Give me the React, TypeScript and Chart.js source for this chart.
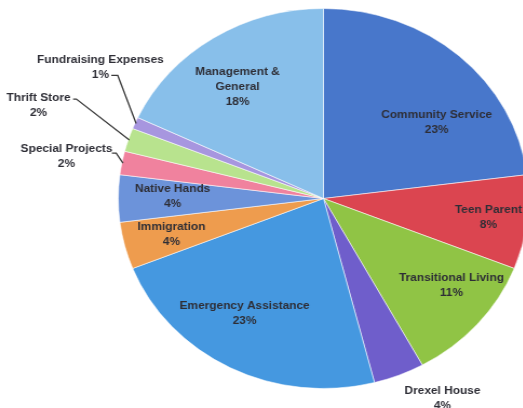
import React, { useEffect, useRef } from "react";
import { Chart, registerables } from "chart.js";

Chart.register(...registerables);

// ---- data ----
const categories = [
  "Community Service",
  "Teen Parent",
  "Transitional Living",
  "Drexel House",
  "Emergency Assistance",
  "Immigration",
  "Native Hands",
  "Special Projects",
  "Thrift Store",
  "Fundraising Expenses",
  "Management & General",
];
const shares = [23, 8, 11, 4, 23, 4, 4, 2, 2, 1, 18];
const sliceColors = [
  "#4877cb",
  "#db4550",
  "#90c445",
  "#6f5ecb",
  "#4598e0",
  "#ee9c4e",
  "#6c93da",
  "#f0829e",
  "#b8e38e",
  "#a796df",
  "#88bfea",
];

// label placement: [angle from 12 o'clock in degrees, radius factor]
const labelPlacement: [number, number][] = [
  [54.2, 0.68],
  [96.9, 0.81],
  [126.3, 0.774],
  [151.1, 1.2],
  [212.4, 0.717],
  [255.5, 0.765],
  [271, 0.735],
  [280.1, 1.272],
  [289.5, 1.473],
  [302.4, 1.287],
  [324.6, 0.723],
];
// leader lines for outside labels: [dx, dy, horizontal knee length] from label centre
const leaders: (null | [number, number, number])[] = [
  null, null, null, null, null, null, null,
  [42, -3, 4],
  [32, -6, 3],
  [10, 8, 6],
  null,
];

const SCALE_X = 1.08;

const labelPlugin = {
  id: "sliceLabels",
  afterDraw(chart: any) {
    const ctx = chart.ctx;
    const meta = chart.getDatasetMeta(0);
    const first = meta.data[0] as any;
    const cx = first.x;
    const cy = first.y;
    const R = first.outerRadius;
    ctx.save();
    ctx.font = "bold 11px 'Liberation Sans', Arial, sans-serif";
    ctx.fillStyle = "#2e2e36";
    ctx.textAlign = "center";
    ctx.textBaseline = "middle";
    meta.data.forEach((arc: any, i: number) => {
      const [deg, f] = labelPlacement[i];
      const a = ((deg - 90) * Math.PI) / 180;
      const x = cx + Math.cos(a) * R * f;
      const y = cy + Math.sin(a) * R * f;
      const lines = categories[i].replace("& ", "&\n").split("\n");
      lines.push(shares[i] + "%");
      const lh = 15;
      const y0 = y - ((lines.length - 1) * lh) / 2;
      lines.forEach((t: string, k: number) => ctx.fillText(t, x, y0 + k * lh));
      const ld = leaders[i];
      if (ld) {
        const mid = (arc.startAngle + arc.endAngle) / 2;
        const ex = cx + Math.cos(mid) * (R - 1);
        const ey = cy + Math.sin(mid) * (R - 1);
        const sx = x + ld[0];
        const sy = y + ld[1];
        ctx.beginPath();
        ctx.strokeStyle = "#3a3a3a";
        ctx.lineWidth = 1.3;
        ctx.moveTo(sx, sy);
        ctx.lineTo(sx + ld[2], sy);
        ctx.lineTo(ex, ey);
        ctx.stroke();
      }
    });
    ctx.restore();
  },
};

export default function App() {
  const canvasRef = useRef<HTMLCanvasElement | null>(null);

  useEffect(() => {
    if (!canvasRef.current) return;
    const chart = new Chart(canvasRef.current, {
      type: "pie",
      data: {
        labels: categories,
        datasets: [
          {
            data: shares,
            backgroundColor: sliceColors,
            borderColor: "rgba(255,255,255,0.55)",
            borderWidth: 1,
            hoverOffset: 0,
            offset: 0,
          },
        ],
      },
      options: {
        responsive: false,
        animation: false,
        layout: { padding: { left: 109, top: 8, right: 10, bottom: 19 } },
        plugins: {
          legend: { display: false },
          tooltip: { enabled: false },
        },
        events: [],
      },
      plugins: [labelPlugin],
    });
    return () => chart.destroy();
  }, []);

  return (
    <div
      style={{
        position: "fixed",
        left: 0,
        top: 0,
        width: 523,
        height: 408,
        overflow: "hidden",
        background: "#ffffff",
      }}
    >
      <div
        style={{
          width: 500,
          height: 408,
          transform: `scaleX(${SCALE_X})`,
          transformOrigin: "0 0",
        }}
      >
        <canvas
          ref={canvasRef}
          width={500}
          height={408}
          style={{ width: 500, height: 408, display: "block" }}
        />
      </div>
    </div>
  );
}
